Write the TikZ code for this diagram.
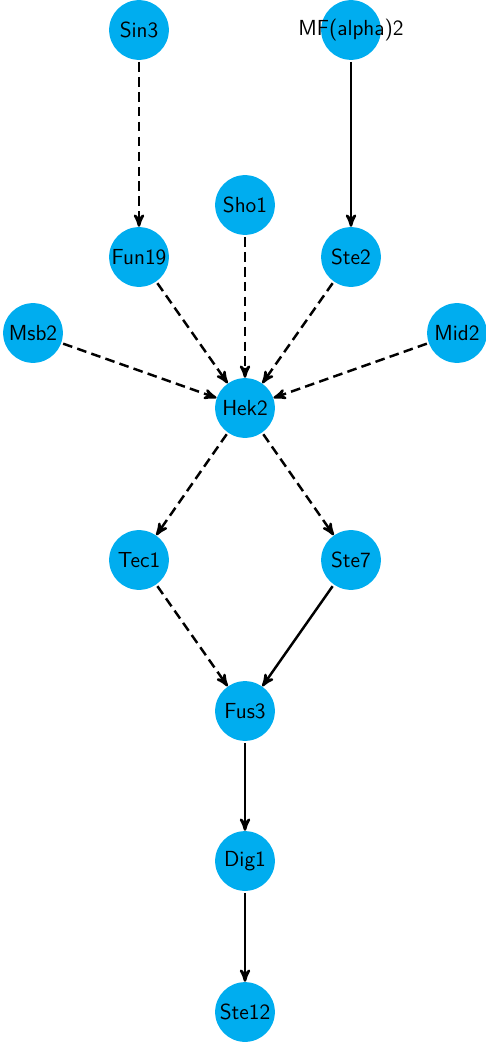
\documentclass[tikz,border=0pt]{standalone}
\usepackage{tikz}
\usetikzlibrary{arrows}
\definecolor{genecyan}{cmyk}{1,0,0,0}
\tikzset{
  gene/.style={circle, fill=genecyan, minimum size=34pt, inner sep=0pt, font=\sffamily\fontsize{12.4}{15}\selectfont},
  act/.style={->, >=stealth', line width=1.4pt, shorten <=1pt},
  maybe/.style={act, dash pattern=on 5.5pt off 3pt}
}
\begin{document}
\begin{tikzpicture}[x=0.02cm, y=-0.02cm]
  \useasboundingbox (0,0) rectangle (485,1047);
           \node[gene](sin3)  at (139,30) {Sin3};
           \node[gene](mfa2)  at (351,30) {\makebox[0pt]{MF(alpha)2}};
           \node[gene](sho1)  at (245,205) {Sho1};
           \node[gene](fun19) at (139,257) {Fun19};
           \node[gene](ste2)  at (351,257) {Ste2};
      \node[gene](msb2)  at (33,333) {Msb2};
      \node[gene](mid2)  at (457,333) {Mid2};
      \node[gene](hek2)  at (245,408) {Hek2};
      \node[gene](tec1)  at (139,560) {Tec1};
      \node[gene](ste7)  at (351,560) {Ste7};
      \node[gene](fus3)  at (245,711) {Fus3};
      \node[gene](dig1)  at (245,861) {Dig1};
      \node[gene](ste12) at (245,1012) {Ste12};
      \draw[maybe] (sin3) -- (fun19);
      \draw[act] (mfa2) -- (ste2);
      \draw[maybe] (fun19) -- (hek2);
      \draw[maybe] (sho1) -- (hek2);
      \draw[maybe] (ste2) -- (hek2);
       \draw[maybe] (msb2) -- (hek2);
       \draw[maybe] (mid2) -- (hek2);
        \draw[maybe] (hek2) -- (tec1);
        \draw[maybe] (hek2) -- (ste7);
        \draw[maybe] (tec1) -- (fus3);
        \draw[act] (ste7) -- (fus3);
          \draw[act] (fus3) -- (dig1);
          \draw[act] (dig1) -- (ste12);
          \end{tikzpicture}
\end{document}
